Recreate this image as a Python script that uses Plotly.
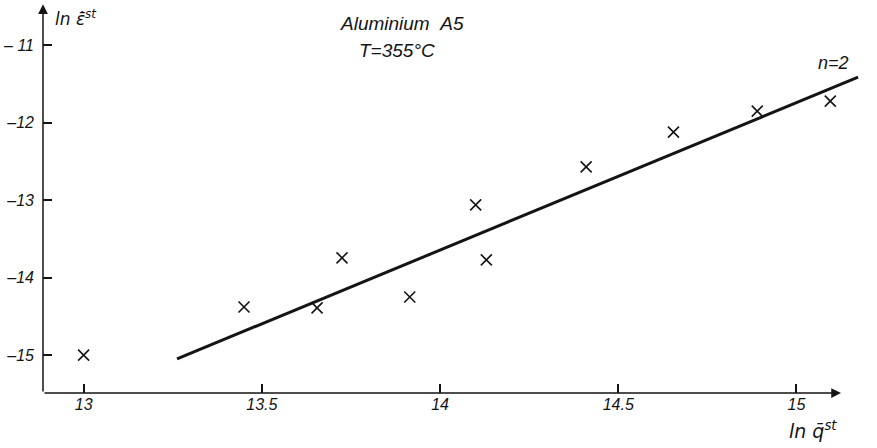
import plotly.graph_objects as go

# ---- data ----
ln_q = [13.00, 13.45, 13.655, 13.725, 13.915, 14.10, 14.13, 14.41, 14.655, 14.89, 15.095]
ln_eps = [-15.00, -14.38, -14.39, -13.745, -14.25, -13.06, -13.77, -12.57, -12.12, -11.85, -11.72]
fit_q = [13.262, 15.173]
fit_eps = [-15.05, -11.41]
x_ticks = [13, 13.5, 14, 14.5, 15]
x_tick_text = ["13", "13.5", "14", "14.5", "15"]
y_ticks = [-11, -12, -13, -14, -15]
y_tick_text = ["\u2013 11", "\u201312", "\u201313", "\u201314", "\u201315"]

W, H = 877, 448
L, R, T, B = 43, 13, 4, 55
PW, PH = W - L - R, H - T - B
X0 = 12.886
XPX = 356.4
Y0 = -15.49
YPX = 77.43
xr = [X0, X0 + PW / XPX]
yr = [Y0, Y0 + PH / YPX]

INK = "#141414"
FONT = "Liberation Sans"


def pp(px, py):
    return (px - L) / PW, 1 - (py - T) / PH


fig = go.Figure()
fig.add_trace(go.Scatter(x=fit_q, y=fit_eps, mode="lines",
                         line=dict(color=INK, width=3), hoverinfo="skip"))
fig.add_trace(go.Scatter(x=ln_q, y=ln_eps, mode="markers",
                         marker=dict(symbol="x-thin", size=11,
                                     line=dict(color=INK, width=1.6)),
                         cliponaxis=False))

anns = []
# axis lines with arrowheads
anns.append(dict(x=15.125, y=Y0, ax=X0, ay=Y0, xref="x", yref="y", axref="x", ayref="y",
                 text="", showarrow=True, arrowhead=2, arrowsize=1.3, arrowwidth=1.5,
                 arrowcolor=INK))
anns.append(dict(x=X0, y=-10.47, ax=X0, ay=Y0, xref="x", yref="y", axref="x", ayref="y",
                 text="", showarrow=True, arrowhead=2, arrowsize=1.3, arrowwidth=1.5,
                 arrowcolor=INK))


def txt(s, px, py, size, xanchor="center", family=FONT):
    x, y = pp(px, py)
    anns.append(dict(x=x, y=y, xref="paper", yref="paper", text=s, showarrow=False,
                     xanchor=xanchor, yanchor="middle",
                     font=dict(family=family, size=size, color=INK, style="italic")))


txt("Aluminium&nbsp;&nbsp;A5", 402, 24, 19)
txt("T=355\u00b0C", 397, 51, 19)
txt("n=2", 833, 63, 18)
txt("ln \u03b5\u0304\u0307<sup>st</sup>", 53, 18, 17, xanchor="left", family="DejaVu Sans")
txt("ln q\u0304<sup>st</sup>", 813, 430, 19, family="DejaVu Sans")

fig.update_layout(
    width=W, height=H,
    margin=dict(l=L, r=R, t=T, b=B, autoexpand=False),
    paper_bgcolor="white", plot_bgcolor="white",
    showlegend=False,
    annotations=anns,
    font=dict(family=FONT, color=INK),
)
fig.update_xaxes(range=xr, tickvals=x_ticks, ticktext=x_tick_text, ticks="inside",
                 ticklen=9, tickwidth=1.5, tickcolor=INK, showgrid=False, zeroline=False,
                 showline=False, automargin=False,
                 tickfont=dict(family=FONT, size=16, color=INK, style="italic"))
fig.update_yaxes(range=yr, tickvals=y_ticks, ticktext=y_tick_text, ticks="inside",
                 ticklen=9, tickwidth=1.5, tickcolor=INK, showgrid=False, zeroline=False,
                 showline=False, ticklabelstandoff=8, automargin=False,
                 tickfont=dict(family=FONT, size=16, color=INK, style="italic"))

fig.write_html("out.html", post_script="document.body.style.margin='0';",
               config={"displayModeBar": False})
